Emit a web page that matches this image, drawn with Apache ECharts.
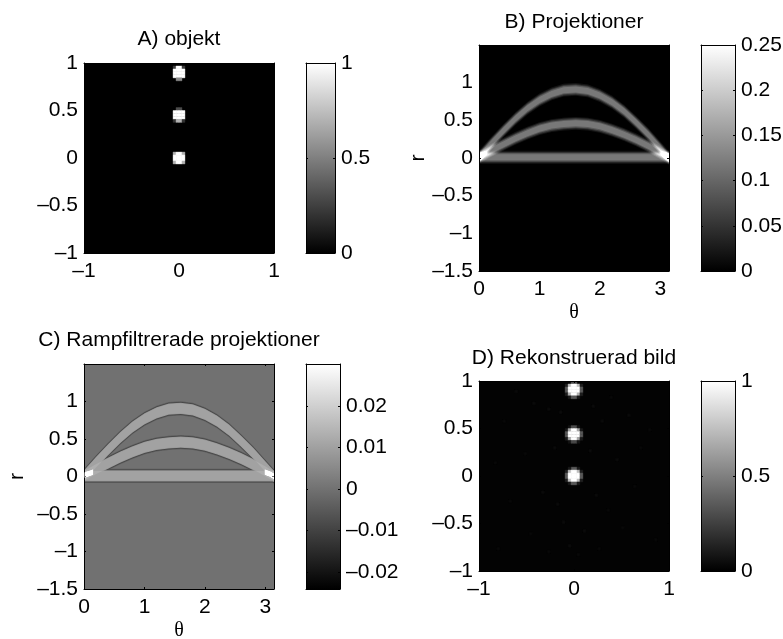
<!DOCTYPE html>
<html>
<head>
<meta charset="utf-8">
<style>html,body{margin:0;padding:0;background:#fff}#c{width:783px;height:639px}</style>
<script src="https://cdn.jsdelivr.net/npm/echarts@6/dist/echarts.min.js"></script>
</head>
<body>
<div id="c"></div>
<script>
// ---------- data ----------
var titles = ['A) objekt', 'B) Projektioner', 'C) Rampfiltrerade projektioner', 'D) Rekonstruerad bild'];
var imgTicks = [-1, -0.5, 0, 0.5, 1];
var imgXTicks = [-1, 0, 1];
var thetaTicks = [0, 1, 2, 3];
var rTicks = [-1.5, -1, -0.5, 0, 0.5, 1];
var barTicksA = [0, 0.5, 1];
var barTicksB = [0, 0.05, 0.1, 0.15, 0.2, 0.25];
var barTicksC = [-0.02, -0.01, 0, 0.01, 0.02];
var barTicksD = [0, 0.5, 1];
var barRangeC = [-0.0241, 0.0301];

// cells of the object image: [column, row, value]
var objectCells = [
  [-2,30,.25],[-1,30,1],[0,30,1],[1,30,.25],
  [-2,29,1],[-1,29,1],[0,29,1],[1,29,1],
  [-2,28,1],[-1,28,1],[0,28,1],[1,28,1],
  [-2,27,1],[-1,27,1],[0,27,1],[1,27,1],
  [-1,26,.55],[0,26,.55],
  [-1,16,.3],[0,16,.3],
  [-2,15,1],[-1,15,1],[0,15,1],[1,15,1],
  [-2,14,1],[-1,14,1],[0,14,1],[1,14,1],
  [-2,13,1],[-1,13,1],[0,13,1],[1,13,1],
  [-2,12,.2],[-1,12,.7],[0,12,.7],[1,12,.2],
  [-2,1,.7],[-1,1,1],[0,1,1],[1,1,.7],
  [-2,0,1],[-1,0,1],[0,0,1],[1,0,1],
  [-2,-1,1],[-1,-1,1],[0,-1,1],[1,-1,1],
  [-2,-2,.7],[-1,-2,1],[0,-2,1],[1,-2,.7]
];
// cells of the reconstructed image: [column, row, value]
var reconCells = [
  [-1,31,.3],[0,31,.3],
  [-3,30,.12],[-2,30,.75],[-1,30,1],[0,30,1],[1,30,.75],[2,30,.12],
  [-3,29,.35],[-2,29,1],[-1,29,1],[0,29,1],[1,29,1],[2,29,.35],
  [-3,28,.35],[-2,28,1],[-1,28,1],[0,28,1],[1,28,1],[2,28,.35],
  [-3,27,.12],[-2,27,.7],[-1,27,1],[0,27,1],[1,27,.7],[2,27,.12],
  [-2,26,.1],[-1,26,.35],[0,26,.35],[1,26,.1],
  [-2,16,.08],[-1,16,.3],[0,16,.3],[1,16,.08],
  [-3,15,.1],[-2,15,.65],[-1,15,1],[0,15,1],[1,15,.65],[2,15,.1],
  [-3,14,.35],[-2,14,1],[-1,14,1],[0,14,1],[1,14,1],[2,14,.35],
  [-3,13,.35],[-2,13,1],[-1,13,1],[0,13,1],[1,13,1],[2,13,.35],
  [-3,12,.1],[-2,12,.65],[-1,12,1],[0,12,1],[1,12,.65],[2,12,.1],
  [-2,11,.08],[-1,11,.28],[0,11,.28],[1,11,.08],
  [-1,2,.35],[0,2,.35],[-2,2,.1],[1,2,.1],
  [-3,1,.12],[-2,1,.75],[-1,1,1],[0,1,1],[1,1,.75],[2,1,.12],
  [-3,0,.35],[-2,0,1],[-1,0,1],[0,0,1],[1,0,1],[2,0,.35],
  [-3,-1,.35],[-2,-1,1],[-1,-1,1],[0,-1,1],[1,-1,1],[2,-1,.35],
  [-3,-2,.12],[-2,-2,.75],[-1,-2,1],[0,-2,1],[1,-2,.75],[2,-2,.12],
  [-2,-3,.1],[-1,-3,.35],[0,-3,.35],[1,-3,.1],
  // faint speckle seen around the spots
  [-20,28,.035],[-14,24,.04],[-9,22,.04],[-24,18,.03],[-5,21,.045],[6,23,.04],[12,26,.03],[18,20,.04],
  [25,15,.03],[9,18,.04],[-7,9,.04],[-17,7,.03],[5,8,.045],[14,5,.04],[22,9,.03],[-27,4,.03],
  [-11,-6,.04],[-6,-10,.04],[7,-7,.04],[11,-12,.03],[20,-4,.03],[-22,-9,.03],[-4,-16,.04],[3,-19,.04],
  [-15,-20,.03],[16,-18,.03],[-2,-24,.04],[1,-27,.03],[-9,-26,.03],[8,-25,.03],[27,-22,.03],[-26,-25,.03]
];
// sinogram arcs: r of each point's band against theta
var thetaSamples = [0, 0.2, 0.4, 0.6, 0.8, 1, 1.2, 1.4, 1.6, 1.8, 2, 2.2, 2.4, 2.6, 2.8, 3, 3.1416];
var arcUpper  = [0.01, 0.19, 0.36, 0.52, 0.66, 0.77, 0.85, 0.9, 0.91, 0.89, 0.83, 0.74, 0.62, 0.47, 0.31, 0.13, 0];
var arcMiddle = [0.01, 0.1, 0.18, 0.26, 0.33, 0.39, 0.43, 0.45, 0.46, 0.45, 0.42, 0.37, 0.31, 0.24, 0.16, 0.07, 0];
var arcLower  = [0.01, 0.01, 0.01, 0.01, 0.01, 0.01, 0.01, 0.01, 0.01, 0.01, 0.01, 0.01, 0.01, 0.01, 0.01, 0.01, 0.01];
var arcs = [arcUpper, arcMiddle, arcLower];
// bright crossing spots of the filtered sinogram near both ends
var spotLeftTheta = [0, 0.07, 0.15];
var spotLeftR = [0.02, 0.035, 0.06];
var spotRightTheta = [2.99, 3.07, 3.1416];
var spotRightR = [0.06, 0.035, 0.0];

// ---------- layout and style ----------
var FONT = 'Liberation Sans', FS = 21, FST = 21;
var CELL = 0.03125;
var panels = [
  {g:{left:84, top:63, width:190, height:190}, b:{left:306, top:63, width:29, height:190}},
  {g:{left:479, top:45, width:190, height:226}, b:{left:701, top:45, width:34, height:226}},
  {g:{left:84, top:364, width:190, height:225}, b:{left:306, top:364, width:34, height:225}},
  {g:{left:479, top:381, width:190, height:190}, b:{left:701, top:381, width:34, height:190}}
];
var grids = [], xAxes = [], yAxes = [], series = [];
panels.forEach(function (p) { grids.push(Object.assign({outerBoundsMode: 'none'}, p.g)); grids.push(Object.assign({outerBoundsMode: 'none'}, p.b)); });

function fmt(v) { return String(+v.toFixed(4)).replace('-', '\u2013'); }
function lab(vals, show, margin) {
  return {show: show, customValues: vals, formatter: fmt, margin: margin, fontFamily: FONT, fontSize: FS, color: '#000', hideOverlap: false};
}
function tick(vals) { return {show: vals.length > 0, customValues: vals, inside: true, length: 2, lineStyle: {color: '#000', width: 1}}; }
function axisX(gi, pos, min, max, ticks, showLabel, extra) {
  xAxes.push(Object.assign({type: 'value', gridIndex: gi, position: pos, min: min, max: max, z: 5,
    axisLine: {show: true, onZero: false, lineStyle: {color: '#000', width: 1}},
    axisTick: tick(ticks), axisLabel: lab(ticks, showLabel, 8), splitLine: {show: false}}, extra || {}));
  return xAxes.length - 1;
}
function axisY(gi, pos, min, max, ticks, showLabel, extra) {
  yAxes.push(Object.assign({type: 'value', gridIndex: gi, position: pos, min: min, max: max, z: 5,
    axisLine: {show: true, onZero: false, lineStyle: {color: '#000', width: 1}},
    axisTick: tick(ticks), axisLabel: lab(ticks, showLabel, 6), splitLine: {show: false}}, extra || {}));
  return yAxes.length - 1;
}
function titleName(text, gap) {
  return {name: text, nameLocation: 'middle', nameGap: gap, nameTextStyle: {fontFamily: FONT, fontSize: FST, color: '#000'}};
}
function thetaName(gap) {
  return {name: '\u03b8', nameLocation: 'middle', nameGap: gap, nameTextStyle: {fontFamily: 'Liberation Serif', fontSize: 20, color: '#000'}};
}
function rName(gap) {
  return {name: 'r', nameLocation: 'middle', nameGap: gap, nameRotate: 90, nameTextStyle: {fontFamily: FONT, fontSize: FS, color: '#000'}};
}

function cellSeries(xi, yi, cells) {
  series.push({type: 'custom', coordinateSystem: 'cartesian2d', xAxisIndex: xi, yAxisIndex: yi, clip: true, silent: true,
    data: cells, z: 2, animation: false,
    renderItem: function (params, api) {
      var c = api.value(0), r = api.value(1), g = Math.round(api.value(2) * 255);
      var a = api.coord([c * CELL, (r + 1) * CELL]), b = api.coord([(c + 1) * CELL, r * CELL]);
      var col = 'rgb(' + g + ',' + g + ',' + g + ')';
      return {type: 'rect', shape: {x: a[0], y: a[1], width: b[0] - a[0], height: b[1] - a[1]},
        style: {fill: col, stroke: col, lineWidth: 0.4}};
    }});
}
// one band (polygon), half-width d in r units, painted with colour col
function bandOn(xi, yi, th, arc, d, col, blend, z) {
  var s = {type: 'custom', coordinateSystem: 'cartesian2d', xAxisIndex: xi, yAxisIndex: yi, clip: true, silent: true,
    data: [[0, 0]], z: z, animation: false,
    renderItem: function (params, api) {
      var pts = [], i;
      for (i = 0; i < th.length; i++) pts.push(api.coord([th[i], arc[i] + d]));
      for (i = th.length - 1; i >= 0; i--) pts.push(api.coord([th[i], arc[i] - d]));
      return {type: 'polygon', shape: {points: pts}, style: {fill: col}};
    }};
  if (blend) s.blendMode = blend;
  series.push(s);
}
function bandSeries(xi, yi, arc, d, col, blend, z) { bandOn(xi, yi, thetaSamples, arc, d, col, blend, z); }
function barSeries(xi, yi, lo, hi) {
  series.push({type: 'custom', coordinateSystem: 'cartesian2d', xAxisIndex: xi, yAxisIndex: yi, clip: true, silent: true,
    data: [[lo, hi]], z: 2, animation: false,
    renderItem: function (params, api) {
      var a = api.coord([0, api.value(1)]), b = api.coord([1, api.value(0)]);
      return {type: 'rect', shape: {x: a[0], y: a[1], width: b[0] - a[0], height: b[1] - a[1]},
        style: {fill: new echarts.graphic.LinearGradient(0, 0, 0, 1, [{offset: 0, color: '#fff'}, {offset: 1, color: '#000'}])}};
    }});
}
function colorbar(gi, lo, hi, ticks) {
  var xb = axisX(gi, 'bottom', 0, 1, [], false);
  axisX(gi, 'top', 0, 1, [], false);
  axisY(gi, 'left', lo, hi, ticks, false);
  var yb = axisY(gi, 'right', lo, hi, ticks, true);
  barSeries(xb, yb, lo, hi);
}
function bg(gi, color) { grids[gi].show = true; grids[gi].backgroundColor = color; grids[gi].borderWidth = 0; }

// Panel A
bg(0, '#000');
var xi = axisX(0, 'bottom', -1, 1, imgXTicks, true);
axisX(0, 'top', -1, 1, imgXTicks, false, titleName(titles[0], 13));
var yi = axisY(0, 'left', -1, 1, imgTicks, true);
axisY(0, 'right', -1, 1, imgTicks, false);
cellSeries(xi, yi, objectCells);
colorbar(1, 0, 1, barTicksA);

// Panel B
bg(2, '#000');
xi = axisX(2, 'bottom', 0, Math.PI, thetaTicks, true, thetaName(32));
axisX(2, 'top', 0, Math.PI, thetaTicks, false, titleName(titles[1], 12));
yi = axisY(2, 'left', -1.5, 1.5, rTicks, true, rName(29));
axisY(2, 'right', -1.5, 1.5, rTicks, false);
arcs.forEach(function (arc) {
  bandSeries(xi, yi, arc, 0.085, '#141414', 'lighter', 2);
  bandSeries(xi, yi, arc, 0.07, '#202020', 'lighter', 2);
  bandSeries(xi, yi, arc, 0.055, '#262626', 'lighter', 2);
  bandSeries(xi, yi, arc, 0.04, '#1e1e1e', 'lighter', 2);
});
colorbar(3, 0, 0.25, barTicksB);

// Panel C
bg(4, '#717171');
xi = axisX(4, 'bottom', 0, Math.PI, thetaTicks, true, thetaName(32));
axisX(4, 'top', 0, Math.PI, thetaTicks, false, titleName(titles[2], 13));
yi = axisY(4, 'left', -1.5, 1.5, rTicks, true, rName(56));
axisY(4, 'right', -1.5, 1.5, rTicks, false);
arcs.forEach(function (arc) {
  bandSeries(xi, yi, arc, 0.095, '#5c5c5c', null, 2);
});
arcs.forEach(function (arc) {
  bandSeries(xi, yi, arc, 0.085, '#444444', null, 3);
});
arcs.forEach(function (arc) {
  bandSeries(xi, yi, arc, 0.075, '#969696', null, 4);
});
arcs.forEach(function (arc) {
  bandSeries(xi, yi, arc, 0.065, '#0c0c0c', 'lighter', 5);
});
bandOn(xi, yi, spotLeftTheta, spotLeftR, 0.035, '#707070', 'lighter', 6);
bandOn(xi, yi, spotRightTheta, spotRightR, 0.035, '#707070', 'lighter', 6);
colorbar(5, barRangeC[0], barRangeC[1], barTicksC);

// Panel D
bg(6, '#030303');
xi = axisX(6, 'bottom', -1, 1, imgXTicks, true);
axisX(6, 'top', -1, 1, imgXTicks, false, titleName(titles[3], 12));
yi = axisY(6, 'left', -1, 1, imgTicks, true);
axisY(6, 'right', -1, 1, imgTicks, false);
cellSeries(xi, yi, reconCells);
colorbar(7, 0, 1, barTicksD);

var chart = echarts.init(document.getElementById('c'), null, {renderer: 'canvas'});
chart.setOption({animation: false, backgroundColor: '#fff', grid: grids, xAxis: xAxes, yAxis: yAxes, series: series, tooltip: {show: false}});
</script>
</body>
</html>
